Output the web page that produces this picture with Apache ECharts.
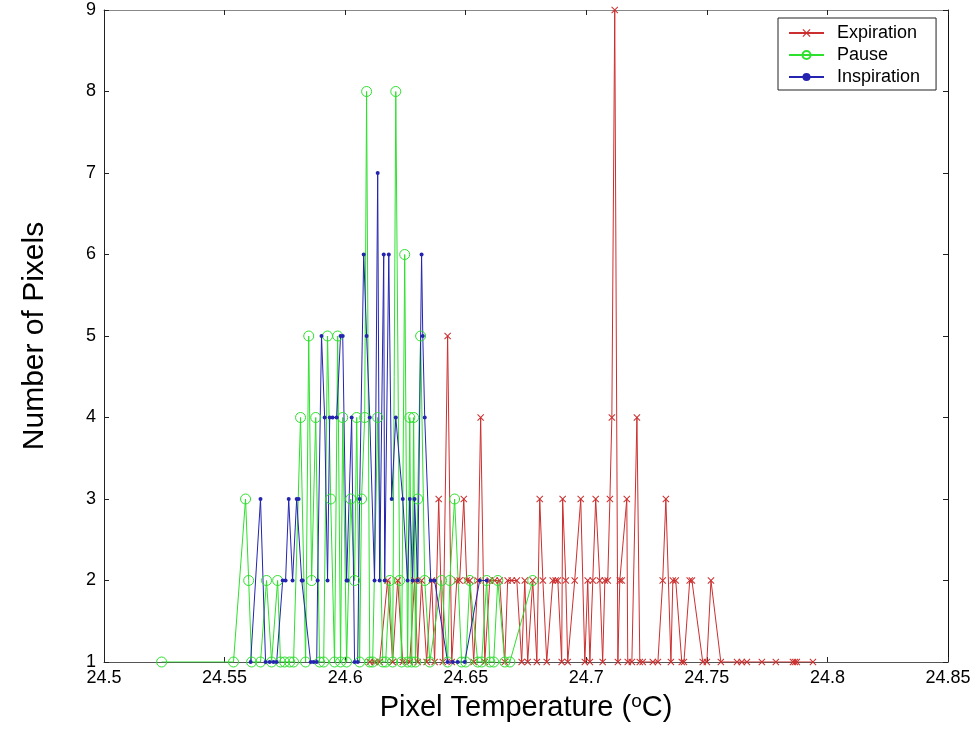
<!DOCTYPE html>
<html>
<head>
<meta charset="utf-8">
<script src="https://cdn.jsdelivr.net/npm/echarts@6/dist/echarts.min.js"></script>
<style>html,body{margin:0;padding:0;background:#fff;}#c{width:974px;height:751px;}</style>
</head>
<body>
<div id="c"></div>
<script>
// ---- data (temperatures in °C, counts = number of pixels) ----
const expirationTemps = [24.6102,24.6122,24.6143,24.6176,24.6197,24.6218,24.6239,24.6268,24.6288,24.6301,24.6317,24.6338,24.6359,24.6371,24.6388,24.6405,24.6425,24.6442,24.6463,24.6475,24.6492,24.6504,24.6517,24.6533,24.6550,24.6562,24.6579,24.6600,24.6620,24.6641,24.6662,24.6674,24.6691,24.6712,24.6732,24.6745,24.6757,24.6778,24.6795,24.6807,24.6820,24.6836,24.6861,24.6873,24.6882,24.6898,24.6902,24.6915,24.6923,24.6952,24.6977,24.6994,24.7006,24.7015,24.7027,24.7039,24.7056,24.7068,24.7077,24.7089,24.7098,24.7106,24.7118,24.7131,24.7139,24.7147,24.7168,24.7172,24.7189,24.7210,24.7222,24.7234,24.7276,24.7297,24.7317,24.7330,24.7351,24.7359,24.7371,24.7396,24.7405,24.7429,24.7438,24.7483,24.7500,24.7517,24.7558,24.7625,24.7645,24.7666,24.7728,24.7786,24.7857,24.7865,24.7873,24.7940];
const expirationCounts = [1,1,1,2,1,2,1,1,2,1,2,1,2,1,3,1,5,1,2,2,3,2,2,1,2,4,1,2,2,2,1,2,2,2,1,2,1,2,1,3,2,1,2,2,2,1,3,2,1,2,3,1,2,1,2,3,2,1,2,2,3,4,9,1,2,2,3,1,1,4,1,1,1,1,2,3,1,2,2,1,1,2,2,1,1,2,1,1,1,1,1,1,1,1,1,1];

const pauseTemps = [24.5239,24.5537,24.5587,24.5600,24.5612,24.5649,24.5674,24.5695,24.5720,24.5732,24.5749,24.5770,24.5786,24.5815,24.5836,24.5849,24.5861,24.5878,24.5894,24.5911,24.5927,24.5940,24.5956,24.5969,24.5981,24.5990,24.6006,24.6023,24.6039,24.6048,24.6060,24.6068,24.6081,24.6089,24.6102,24.6114,24.6135,24.6156,24.6168,24.6185,24.6197,24.6210,24.6226,24.6234,24.6247,24.6259,24.6268,24.6276,24.6284,24.6292,24.6301,24.6313,24.6330,24.6351,24.6400,24.6425,24.6434,24.6454,24.6483,24.6500,24.6517,24.6550,24.6566,24.6587,24.6600,24.6616,24.6633,24.6662,24.6683,24.6778];
const pauseCounts = [1,1,3,2,1,1,2,1,2,1,1,1,1,4,1,5,2,4,1,1,5,3,1,5,1,4,1,3,2,4,1,3,4,8,1,1,4,1,1,2,1,8,2,1,6,1,4,1,4,1,3,5,2,1,2,1,2,3,1,1,2,1,1,2,1,1,2,1,1,2];

const inspirationTemps = [24.5608,24.5649,24.5670,24.5687,24.5703,24.5716,24.5741,24.5753,24.5766,24.5782,24.5799,24.5807,24.5820,24.5824,24.5857,24.5869,24.5882,24.5886,24.5902,24.5915,24.5927,24.5936,24.5948,24.5965,24.5981,24.5990,24.6006,24.6010,24.6027,24.6039,24.6052,24.6060,24.6077,24.6089,24.6102,24.6122,24.6135,24.6143,24.6160,24.6164,24.6181,24.6193,24.6210,24.6239,24.6259,24.6268,24.6280,24.6288,24.6301,24.6317,24.6322,24.6330,24.6355,24.6371,24.6425,24.6446,24.6467,24.6496,24.6558,24.6587];
const inspirationCounts = [1,3,1,1,1,1,2,2,3,2,3,3,2,2,1,1,1,2,5,4,2,4,4,4,5,5,2,2,4,1,1,3,6,5,4,2,7,2,6,2,6,3,4,3,2,3,2,3,2,6,5,4,2,2,1,1,1,1,2,2];

const seriesNames = ['Expiration', 'Pause', 'Inspiration'];
const xTicks = [24.5, 24.55, 24.6, 24.65, 24.7, 24.75, 24.8, 24.85];
const yTicks = [1, 2, 3, 4, 5, 6, 7, 8, 9];

// ---- chart ----
const pair = (t, c) => t.map((v, i) => [v, c[i]]);
const FONT = 'Liberation Sans, Arial, sans-serif';
const RED = '#cc2f2f', GREEN = '#2ee02e', BLUE = '#2424b0';
const crossPath = 'path://M0,1 L1,0 L5,4 L9,0 L10,1 L6,5 L10,9 L9,10 L5,6 L1,10 L0,9 L4,5 Z';

const chart = echarts.init(document.getElementById('c'), null, {renderer: 'canvas'});
const axisCommon = {
  type: 'value',
  axisTick: {show: true, inside: true, length: 5, lineStyle: {color: '#222'}},
  splitLine: {show: false},
};
chart.setOption({
  animation: false,
  backgroundColor: '#ffffff',
  grid: {left: 104, right: 26, top: 10, bottom: 89, containLabel: false},
  xAxis: [
    Object.assign({}, axisCommon, {
      min: xTicks[0], max: xTicks[xTicks.length - 1], interval: 0.05,
      axisLine: {show: true, onZero: false, lineStyle: {color: '#555', width: 1}},
      axisLabel: {color: '#000', fontFamily: FONT, fontSize: 18, margin: 7,
        formatter: v => String(+v.toFixed(2))},
      name: '{n|Pixel Temperature (}{s|o}{n|C)}',
      nameLocation: 'middle', nameGap: 30,
      nameTextStyle: {rich: {
        n: {fontFamily: FONT, fontSize: 29, color: '#000'},
        s: {fontFamily: FONT, fontSize: 19, color: '#000', verticalAlign: 'top', padding: [0, 0, 12, 0]}
      }}
    }),
    Object.assign({}, axisCommon, {
      position: 'top', min: xTicks[0], max: xTicks[xTicks.length - 1], interval: 0.05,
      axisLine: {show: true, onZero: false, lineStyle: {color: '#888', width: 1}},
      axisLabel: {show: false}
    })
  ],
  yAxis: [
    Object.assign({}, axisCommon, {
      min: yTicks[0], max: yTicks[yTicks.length - 1], interval: 1,
      axisLine: {show: true, onZero: false, lineStyle: {color: '#222', width: 1}},
      axisLabel: {color: '#000', fontFamily: FONT, fontSize: 18, margin: 8},
      name: 'Number of Pixels', nameLocation: 'middle', nameGap: 54,
      nameTextStyle: {fontFamily: FONT, fontSize: 30, color: '#000'}
    }),
    Object.assign({}, axisCommon, {
      position: 'right', min: yTicks[0], max: yTicks[yTicks.length - 1], interval: 1,
      axisLine: {show: true, onZero: false, lineStyle: {color: '#111', width: 1}},
      axisLabel: {show: false}
    })
  ],
  legend: {
    orient: 'vertical', left: 778, top: 18,
    padding: [5, 16, 3, 10], itemGap: 2, itemWidth: 35, itemHeight: 10,
    borderColor: '#222', borderWidth: 1, backgroundColor: '#fff',
    textStyle: {fontFamily: FONT, fontSize: 18, lineHeight: 20, color: '#000', padding: [0, 0, 0, 8]},
    data: seriesNames
  },
  series: [
    {
      name: seriesNames[0], type: 'line', data: pair(expirationTemps, expirationCounts),
      symbol: crossPath, symbolSize: 7, showAllSymbol: true,
      lineStyle: {color: RED, width: 1}, itemStyle: {color: RED},
      emphasis: {disabled: true}
    },
    {
      name: seriesNames[1], type: 'line', data: pair(pauseTemps, pauseCounts),
      symbol: 'circle', symbolSize: 10, showAllSymbol: true,
      lineStyle: {color: GREEN, width: 1},
      itemStyle: {color: 'rgba(0,0,0,0)', borderColor: GREEN, borderWidth: 1},
      emphasis: {disabled: true}
    },
    {
      name: seriesNames[2], type: 'line', data: pair(inspirationTemps, inspirationCounts),
      symbol: 'circle', symbolSize: 4, showAllSymbol: true,
      lineStyle: {color: BLUE, width: 1}, itemStyle: {color: BLUE},
      emphasis: {disabled: true}
    }
  ]
});
</script>
</body>
</html>
